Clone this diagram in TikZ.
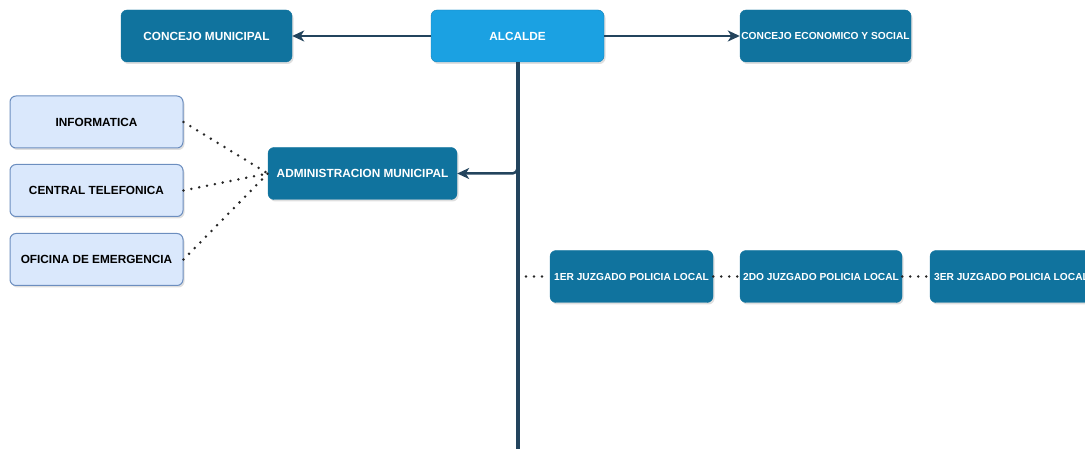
\documentclass[tikz,border=0pt]{standalone}
\usepackage{fontspec}
\setmainfont{Liberation Sans}
\usetikzlibrary{arrows.meta, shadows}

\definecolor{boxblue}{HTML}{10739E}
\definecolor{topblue}{HTML}{1BA1E2}
\definecolor{lightfill}{HTML}{DAE8FC}
\definecolor{lightline}{HTML}{6C8EBF}
\definecolor{linecol}{HTML}{23445D}

\begin{document}
\begin{tikzpicture}[
        x=1pt, y=-1pt,
        unit box/.style={rounded corners=6pt, inner sep=0pt, minimum height=52pt,
            drop shadow={opacity=0.25, shadow xshift=1.5pt, shadow yshift=-2pt}},
        dark box/.style={unit box, fill=boxblue, draw=boxblue, text=white,
            font=\bfseries\fontsize{11.8}{13}\selectfont},
        small box/.style={dark box, font=\bfseries\fontsize{10.2}{12}\selectfont},
        light box/.style={unit box, fill=lightfill, draw=lightline, line width=1pt,
            text=black, minimum width=173pt, font=\bfseries\fontsize{11.8}{13}\selectfont},
        pile/.style={line width=2.5pt, draw=linecol, -{Stealth[length=12pt, width=11pt, inset=3.5pt]}},
        spine/.style={line width=4pt, draw=linecol},
        dots/.style={line width=2.8pt, draw=black!85, line cap=round, dash pattern=on 0pt off 8pt}
    ]
    \useasboundingbox (0,0) rectangle (1085,449);

    % top row
    \node[dark box, fill=topblue, draw=topblue!80!black, minimum width=173pt] (alcalde) at (517.5,36) {ALCALDE};
    \node[dark box, minimum width=171pt] (concejo) at (206.5,36) {CONCEJO MUNICIPAL};
    \node[small box, minimum width=171pt] (ces) at (825.5,36) {CONCEJO ECONOMICO Y SOCIAL};

    \draw[pile] (alcalde.west) -- (concejo.east);
    \draw[pile] (alcalde.east) -- (ces.west);

    % main line down
    \coordinate (bottom) at (517.5,452);
    \draw[spine] (alcalde.south) -- (bottom);

    % administracion
    \node[dark box, minimum width=189pt] (admin) at (362.5,173.5) {ADMINISTRACION MUNICIPAL};
    \draw[pile, rounded corners=5pt] (alcalde.south) |- (admin.east);

    \node[light box] (info) at (96.5,122) {INFORMATICA};
    \node[light box] (central) at (96.5,190.5) {CENTRAL TELEFONICA};
    \node[light box] (oficina) at (96.5,259.5) {OFICINA DE EMERGENCIA};

    \draw[dots] (info.east) -- (admin.west);
    \draw[dots] (central.east) -- (admin.west);
    \draw[dots] (oficina.east) -- (admin.west);

    % juzgados
    \node[small box, minimum width=163pt] (juz1) at (631.5,276.5) {1ER JUZGADO POLICIA LOCAL};
    \node[small box, minimum width=162pt] (juz2) at (821,276.5) {2DO JUZGADO POLICIA LOCAL};
    \node[small box, minimum width=163pt] (juz3) at (1011.5,276.5) {3ER JUZGADO POLICIA LOCAL};

    \coordinate (tap) at (526,276.5);
    \draw[dots] (tap) -- (juz1.west);
    \draw[dots] (juz1.east) -- (juz2.west);
    \draw[dots] (juz2.east) -- (juz3.west);

\end{tikzpicture}
\end{document}
